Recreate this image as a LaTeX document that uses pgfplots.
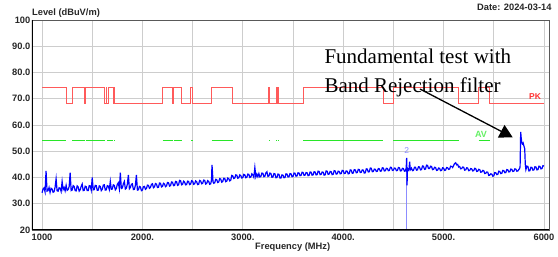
\documentclass[border=0pt]{standalone}
\usepackage{fontspec}
\setmainfont{Liberation Sans}
\newfontfamily\serifann{Liberation Serif}
\usepackage{pgfplots}
\pgfplotsset{compat=1.18}
\usetikzlibrary{arrows.meta}
\definecolor{pkred}{RGB}{255,90,90}
\definecolor{pklab}{RGB}{255,50,50}
\definecolor{avgreen}{RGB}{40,230,40}
\definecolor{avlab}{RGB}{100,240,100}
\definecolor{trblue}{RGB}{0,0,255}
\definecolor{mkblue}{RGB}{140,140,255}
\definecolor{gridgray}{RGB}{205,205,205}
\begin{document}
\begin{tikzpicture}
\begin{axis}[
 at={(0,0)}, anchor=south west,
 width=517pt, height=210pt, scale only axis,
 xmin=900, xmax=6050, ymin=20, ymax=100,
 xtick={1000,2000,3000,4000,5000,6000},
 xticklabels={1000,2000.,3000.,4000.,5000.,6000},
 minor xtick={1500,2500,3500,4500,5500},
 ytick={20,30,...,100},
 yticklabels={20,30.0,40.0,50.0,60.0,70.0,80.0,90.0,100},
 xmajorgrids, xminorgrids, ymajorgrids,
 grid style={gridgray, line width=0.8pt},
 minor grid style={gridgray, line width=0.8pt},
 major tick length=0pt, minor tick length=0pt,
 axis line style={black!65, line width=0.8pt},
 tick label style={font=\bfseries\fontsize{9.3}{10}\selectfont, text=black!85},
 yticklabel style={inner xsep=1.5pt},
 /pgf/number format/assume math mode=true,
 unbounded coords=jump,
 clip=true,
]
% PK limit
\addplot[const plot, pkred, line width=1pt] coordinates {
(1000,74.1) (1240,68.3) (1300,74.1) (1427,68.3) (1435,74.1) (1626.5,68.3) (1645.5,74.1) (1646.5,68.3)
(1660,74.1) (1710,68.3) (1718.8,74.1) (1722.2,68.3) (2200,74.1) (2300,68.3) (2310,74.1) (2390,68.3)
(2483.5,74.1) (2500,68.3) (2690,74.1) (2900,68.3) (3260,74.1) (3267,68.3) (3332,74.1) (3339,68.3)
(3345.8,74.1) (3358,68.3) (3600,74.1) (4400,68.3) (4500,74.1) (5150,68.3) (5350,74.1) (5460,68.3) (6000,68.3)};
% AV limit
\addplot[avgreen, line width=0.9pt] coordinates {
(1000,54) (1240,54) (1270,nan) (1300,54) (1427,54) (1431,nan) (1435,54) (1626.5,54) (1636,nan)
(1645.5,54) (1646.5,54) (1650,nan) (1660,54) (1710,54) (1715,nan) (1718.8,54) (1722.2,54) (1800,nan)
(2200,54) (2300,54) (2305,nan) (2310,54) (2390,54) (2400,nan) (2483.5,54) (2500,54) (2600,nan)
(2690,54) (2900,54) (3000,nan) (3260,54) (3267,54) (3300,nan) (3332,54) (3339,54) (3342,nan)
(3345.8,54) (3358,54) (3400,nan) (3600,54) (4400,54) (4450,nan) (4500,54) (5150,54) (5200,nan)
(5350,54) (5460,54)};
% marker line
\addplot[mkblue, line width=1pt] coordinates {(4632,20) (4632,47.5)};
% measured trace
\addplot[trblue, line width=1.2pt] table[row sep=\\] {
x y\\
1000 34.2\\ 1010 35.6\\ 1020 36.0\\ 1030 34.5\\ 1040 42.5\\ 1050 34.8\\ 1060 35.0\\ 1070 36.2\\ 1080 34.3\\ 1090 35.9\\
1100 35.6\\ 1110 34.4\\ 1120 34.6\\ 1130 36.3\\ 1140 39.5\\ 1150 34.9\\ 1160 34.8\\ 1170 36.1\\ 1180 35.9\\ 1190 34.7\\
1200 38.5\\ 1210 35.4\\ 1220 36.2\\ 1230 34.9\\ 1240 37.0\\ 1250 35.1\\ 1260 35.4\\ 1270 36.5\\ 1280 41.8\\ 1290 35.0\\
1300 35.2\\ 1310 36.9\\ 1320 36.6\\ 1330 35.0\\ 1340 34.9\\ 1350 36.8\\ 1360 36.4\\ 1370 34.8\\ 1380 35.3\\ 1390 36.6\\
1400 37.5\\ 1410 35.0\\ 1420 35.1\\ 1430 36.7\\ 1440 36.5\\ 1450 35.0\\ 1460 35.0\\ 1470 36.9\\ 1480 36.8\\ 1490 35.2\\
1500 40.0\\ 1510 35.3\\ 1520 35.4\\ 1530 37.0\\ 1540 36.9\\ 1550 35.1\\ 1560 35.2\\ 1570 36.8\\ 1580 36.6\\ 1590 35.0\\
1600 35.5\\ 1610 37.1\\ 1620 37.2\\ 1630 35.2\\ 1640 35.3\\ 1650 36.9\\ 1660 36.7\\ 1670 35.4\\ 1680 38.5\\ 1690 35.5\\
1700 35.6\\ 1710 37.2\\ 1720 37.0\\ 1730 35.3\\ 1740 35.8\\ 1750 37.4\\ 1760 38.0\\ 1770 35.7\\ 1780 41.8\\ 1790 35.8\\
1800 36.0\\ 1810 37.6\\ 1820 38.5\\ 1830 35.6\\ 1840 35.9\\ 1850 37.5\\ 1860 41.0\\ 1870 35.7\\ 1880 36.2\\ 1890 37.4\\
1900 37.6\\ 1910 35.4\\ 1920 35.5\\ 1930 37.0\\ 1940 41.0\\ 1950 35.2\\ 1960 35.3\\ 1970 36.6\\ 1980 36.4\\ 1990 35.0\\
2000 35.2\\ 2010 36.5\\ 2020 36.6\\ 2030 35.5\\ 2040 35.8\\ 2050 37.1\\ 2060 37.0\\ 2070 35.9\\ 2080 36.2\\ 2090 37.4\\
2100 37.6\\ 2110 36.1\\ 2120 36.4\\ 2130 37.7\\ 2140 37.5\\ 2150 36.2\\ 2160 36.3\\ 2170 37.9\\ 2180 37.8\\ 2190 36.4\\
2200 36.6\\ 2210 37.8\\ 2220 37.5\\ 2230 36.5\\ 2240 36.8\\ 2250 38.1\\ 2260 38.0\\ 2270 36.7\\ 2280 36.9\\ 2290 38.3\\
2300 38.2\\ 2310 36.9\\ 2320 37.0\\ 2330 38.5\\ 2340 38.4\\ 2350 37.0\\ 2360 37.2\\ 2370 38.9\\ 2380 38.8\\ 2390 37.2\\
2400 37.4\\ 2410 38.6\\ 2420 38.3\\ 2430 37.2\\ 2440 37.3\\ 2450 38.6\\ 2460 38.5\\ 2470 37.3\\ 2480 37.5\\ 2490 38.8\\
2500 38.6\\ 2510 37.4\\ 2520 37.6\\ 2530 38.7\\ 2540 38.4\\ 2550 37.3\\ 2560 37.4\\ 2570 38.9\\ 2580 38.7\\ 2590 37.6\\
2600 37.8\\ 2610 39.0\\ 2620 38.9\\ 2630 37.5\\ 2640 37.7\\ 2650 38.8\\ 2660 38.5\\ 2670 37.4\\ 2680 37.6\\ 2688 39.0\\
2693 44.8\\ 2698 42.0\\ 2703 38.4\\ 2710 37.8\\ 2720 38.0\\ 2730 39.3\\ 2740 39.2\\ 2750 38.1\\ 2760 38.3\\ 2770 39.6\\
2780 39.4\\ 2790 38.2\\ 2800 38.5\\ 2810 39.7\\ 2820 39.6\\ 2830 38.4\\ 2840 38.6\\ 2850 39.8\\ 2860 39.5\\ 2870 38.7\\
2880 39.0\\ 2890 40.8\\ 2900 40.6\\ 2910 39.6\\ 2920 39.8\\ 2930 41.0\\ 2940 40.9\\ 2950 39.7\\ 2960 39.9\\ 2970 41.0\\
2980 40.7\\ 2990 39.8\\ 3000 40.0\\ 3010 41.2\\ 3020 41.0\\ 3030 39.9\\ 3040 40.1\\ 3050 41.3\\ 3060 41.2\\ 3070 40.0\\
3080 40.2\\ 3090 41.4\\ 3100 41.0\\ 3110 40.1\\ 3120 43.8\\ 3130 40.2\\ 3140 41.3\\ 3150 40.3\\ 3160 41.5\\ 3170 40.2\\
3180 40.4\\ 3190 41.7\\ 3200 41.6\\ 3210 40.3\\ 3220 40.5\\ 3230 41.8\\ 3240 42.2\\ 3250 40.4\\ 3260 40.6\\ 3270 41.7\\
3280 41.5\\ 3290 40.1\\ 3300 40.2\\ 3310 41.5\\ 3320 41.4\\ 3330 39.9\\ 3340 40.0\\ 3350 41.3\\ 3360 41.2\\ 3370 39.8\\
3380 39.8\\ 3390 41.0\\ 3400 40.9\\ 3410 39.9\\ 3420 40.0\\ 3430 41.4\\ 3440 41.3\\ 3450 40.2\\ 3460 40.3\\ 3470 41.5\\
3480 41.4\\ 3490 40.3\\ 3500 40.4\\ 3510 41.7\\ 3520 41.6\\ 3530 40.5\\ 3540 40.6\\ 3550 41.8\\ 3560 41.7\\ 3570 40.7\\
3580 40.8\\ 3590 42.0\\ 3600 41.9\\ 3610 40.8\\ 3620 40.9\\ 3630 41.9\\ 3640 41.8\\ 3650 40.7\\ 3660 40.8\\ 3670 42.1\\
3680 42.0\\ 3690 40.9\\ 3700 41.0\\ 3710 42.2\\ 3720 42.1\\ 3730 41.0\\ 3740 41.1\\ 3750 42.4\\ 3760 42.3\\ 3770 41.1\\
3780 41.2\\ 3790 42.1\\ 3800 42.0\\ 3810 40.9\\ 3820 41.0\\ 3830 42.5\\ 3840 42.4\\ 3850 41.2\\ 3860 41.3\\ 3870 42.3\\
3880 42.2\\ 3890 41.1\\ 3900 41.2\\ 3910 42.6\\ 3920 42.5\\ 3930 41.3\\ 3940 41.4\\ 3950 42.4\\ 3960 42.3\\ 3970 41.4\\
3980 41.5\\ 3990 42.7\\ 4000 42.6\\ 4010 41.5\\ 4020 41.6\\ 4030 42.5\\ 4040 42.4\\ 4050 41.4\\ 4060 41.5\\ 4070 42.9\\
4080 42.8\\ 4090 41.6\\ 4100 41.7\\ 4110 43.0\\ 4120 42.9\\ 4130 41.8\\ 4140 41.9\\ 4150 43.1\\ 4160 43.0\\ 4170 41.9\\
4180 42.0\\ 4190 42.9\\ 4200 42.8\\ 4210 41.7\\ 4220 41.8\\ 4230 43.3\\ 4240 43.2\\ 4250 42.1\\ 4260 42.2\\ 4270 43.6\\
4280 43.5\\ 4290 42.2\\ 4300 42.3\\ 4310 43.2\\ 4320 43.1\\ 4330 42.3\\ 4340 42.4\\ 4350 43.4\\ 4360 43.3\\ 4370 42.4\\
4380 42.5\\ 4390 43.7\\ 4400 43.6\\ 4410 42.5\\ 4420 42.6\\ 4430 43.5\\ 4440 43.4\\ 4450 42.6\\ 4460 42.7\\ 4470 43.9\\
4480 43.8\\ 4490 42.7\\ 4500 42.8\\ 4510 43.6\\ 4520 43.5\\ 4530 42.6\\ 4540 42.7\\ 4550 43.8\\ 4560 43.7\\ 4570 42.5\\
4580 42.6\\ 4590 43.5\\ 4600 43.4\\ 4610 42.4\\ 4620 42.5\\ 4628 43.8\\ 4632 47.5\\ 4636 37.0\\ 4640 43.5\\ 4650 42.8\\
4656 43.4\\ 4662 46.0\\ 4668 42.9\\ 4680 43.6\\ 4690 42.6\\ 4700 42.7\\ 4710 43.9\\ 4720 43.9\\ 4730 42.8\\ 4740 42.9\\
4750 44.1\\ 4760 44.0\\ 4770 42.9\\ 4780 43.0\\ 4790 44.4\\ 4800 44.3\\ 4810 43.1\\ 4820 43.2\\ 4830 44.7\\ 4840 44.6\\
4850 43.4\\ 4860 43.4\\ 4870 44.3\\ 4880 44.2\\ 4890 43.0\\ 4900 43.1\\ 4910 43.9\\ 4920 43.8\\ 4930 42.7\\ 4940 42.8\\
4950 43.6\\ 4960 43.5\\ 4970 42.6\\ 4980 42.7\\ 4990 43.7\\ 5000 43.6\\ 5010 42.7\\ 5020 42.8\\ 5030 43.8\\ 5040 43.7\\
5050 43.1\\ 5060 43.2\\ 5070 44.3\\ 5080 44.2\\ 5090 43.8\\ 5100 44.6\\ 5110 45.3\\ 5120 45.6\\ 5130 44.8\\ 5140 45.0\\
5150 44.0\\ 5160 44.2\\ 5170 43.3\\ 5180 43.4\\ 5190 44.0\\ 5200 43.9\\ 5210 42.8\\ 5220 42.9\\ 5230 43.7\\ 5240 43.6\\
5250 42.6\\ 5260 42.7\\ 5270 43.4\\ 5280 43.3\\ 5290 42.5\\ 5300 42.6\\ 5310 43.5\\ 5320 43.4\\ 5330 42.3\\ 5340 42.4\\
5350 43.1\\ 5360 43.0\\ 5370 42.0\\ 5380 42.1\\ 5390 42.7\\ 5400 42.6\\ 5410 41.5\\ 5420 41.6\\ 5430 42.1\\ 5440 42.0\\
5450 40.8\\ 5460 40.9\\ 5470 41.4\\ 5480 41.3\\ 5490 40.5\\ 5500 40.6\\ 5510 41.9\\ 5520 41.8\\ 5530 41.1\\ 5540 41.2\\
5550 42.4\\ 5560 42.3\\ 5570 41.5\\ 5580 41.6\\ 5590 42.7\\ 5600 42.6\\ 5610 41.8\\ 5620 41.9\\ 5630 43.0\\ 5640 42.9\\
5650 42.1\\ 5660 42.2\\ 5670 43.2\\ 5680 43.1\\ 5690 42.3\\ 5700 42.4\\ 5710 43.3\\ 5720 43.2\\ 5730 42.4\\ 5740 42.5\\
5750 43.1\\ 5756 43.3\\ 5762 44.0\\ 5768 57.4\\ 5772 55.5\\ 5778 53.5\\ 5785 52.8\\ 5792 53.2\\ 5800 52.0\\ 5808 51.0\\
5814 45.0\\ 5820 43.0\\ 5830 44.3\\ 5840 44.2\\ 5850 42.5\\ 5860 42.6\\ 5870 43.9\\ 5880 43.8\\ 5890 42.8\\ 5900 42.9\\
5910 44.1\\ 5920 44.0\\ 5930 42.9\\ 5940 43.0\\ 5950 44.3\\ 5960 44.2\\ 5970 43.3\\ 5980 43.4\\ 5990 44.5\\ 6000 44.4\\
};
\node[mkblue, font=\fontsize{8.5}{9}\selectfont, inner sep=0] at (axis cs:4632,50.4) {2};
\draw[black, line width=1.3pt] (rel axis cs:0,1) -- (rel axis cs:0,0) -- (rel axis cs:1,0);
\end{axis}
\node[anchor=west, inner sep=0, font=\bfseries\fontsize{9.3}{10}\selectfont, text=black!85] at (0pt,216.5pt) {Level (dBuV/m)};
\node[anchor=east, inner sep=0, font=\bfseries\fontsize{9.3}{10}\selectfont, text=black!85] at (519.7pt,222.5pt) {Date: 2024-03-14};
\node[inner sep=0, font=\bfseries\fontsize{9.3}{10}\selectfont, text=black!85] at (260.7pt,-17.5pt) {Frequency (MHz)};
\node[anchor=base west, inner sep=0, font=\serifann\fontsize{21}{25}\selectfont] at (292.3pt,166pt) {Fundamental test with};
\node[anchor=base west, inner sep=0, font=\serifann\fontsize{21}{25}\selectfont] at (292.3pt,137.3pt) {Band Rejection filter};
\draw[line width=1.3pt, -{Triangle[length=13pt,width=14pt]}] (388pt,141pt) -- (480.7pt,92.7pt);
\node[inner sep=0, text=pklab, font=\bfseries\fontsize{8.5}{9}\selectfont] at (503pt,133.7pt) {PK};
\node[inner sep=0, text=avlab, font=\bfseries\fontsize{9}{10}\selectfont] at (449pt,95.7pt) {AV};
\pgfresetboundingbox
\path[use as bounding box] (-32pt,-27pt) rectangle (526pt,230pt);
\end{tikzpicture}
\end{document}
